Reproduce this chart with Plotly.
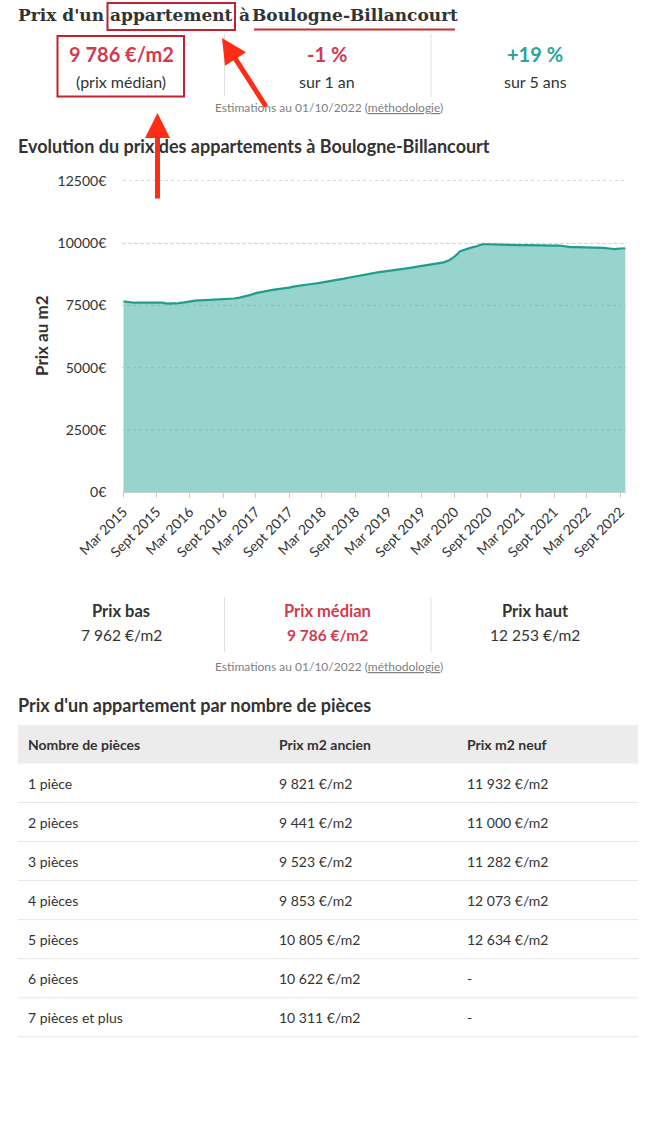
import pandas as pd
import plotly.graph_objects as go

# ---------------- data ----------------
months = pd.date_range("2015-03-01", "2022-10-01", freq="MS")
prix_m2 = [
    7660, 7630, 7605, 7610, 7615, 7620, 7633, 7610, 7570, 7575,
    7590, 7620, 7665, 7690, 7700, 7715, 7730, 7725, 7740, 7745,
    7775, 7810, 7860, 7920, 7990, 8040, 8080, 8120, 8150, 8175,
    8210, 8260, 8300, 8320, 8355, 8380, 8410, 8445, 8485, 8525,
    8570, 8615, 8660, 8710, 8760, 8790, 8820, 8855, 8880, 8900,
    8925, 8965, 9005, 9040, 9080, 9113, 9150, 9190, 9225, 9310,
    9450, 9670, 9750, 9815, 9870, 9950, 9950, 9940, 9935, 9940,
    9935, 9920, 9915, 9913, 9905, 9895, 9887, 9890, 9895, 9900,
    9870, 9833, 9835, 9835, 9830, 9825, 9815, 9805, 9780, 9755,
    9780, 9790,
]
x_tick_vals = ["2015-03-01", "2015-09-01", "2016-03-01", "2016-09-01",
               "2017-03-01", "2017-09-01", "2018-03-01", "2018-09-01",
               "2019-03-01", "2019-09-01", "2020-03-01", "2020-09-01",
               "2021-03-01", "2021-09-01", "2022-03-01", "2022-09-01"]
x_tick_text = ["Mar 2015", "Sept 2015", "Mar 2016", "Sept 2016",
               "Mar 2017", "Sept 2017", "Mar 2018", "Sept 2018",
               "Mar 2019", "Sept 2019", "Mar 2020", "Sept 2020",
               "Mar 2021", "Sept 2021", "Mar 2022", "Sept 2022"]
y_tick_vals = [0, 2500, 5000, 7500, 10000, 12500]
y_tick_text = ["0€", "2500€", "5000€", "7500€", "10000€", "12500€"]

header_values = ["9 786 €/m2", "-1 %", "+19 %"]
header_labels = ["(prix médian)", "sur 1 an", "sur 5 ans"]
stat_labels = ["Prix bas", "Prix médian", "Prix haut"]
stat_values = ["7 962 €/m2", "9 786 €/m2", "12 253 €/m2"]

table_columns = ["Nombre de pièces", "Prix m2 ancien", "Prix m2 neuf"]
pieces = ["1 pièce", "2 pièces", "3 pièces", "4 pièces", "5 pièces",
          "6 pièces", "7 pièces et plus"]
prix_ancien = ["9 821 €/m2", "9 441 €/m2", "9 523 €/m2", "9 853 €/m2",
               "10 805 €/m2", "10 622 €/m2", "10 311 €/m2"]
prix_neuf = ["11 932 €/m2", "11 000 €/m2", "11 282 €/m2", "12 073 €/m2",
             "12 634 €/m2", "-", "-"]

# ---------------- style ----------------
W, H = 651, 1137
DARK = "#333333"
RED = "#d33a4e"
TEAL = "#26a69a"
BOXRED = "#c4212e"
ARROW = "#ff2d16"
SEP = "#e0e0e0"
FONT = "Lato"
SLAB = "DejaVu Serif"
Y_MAX = 12560


def px(x):
    return x / W


def py(y):
    return 1 - y / H


fig = go.Figure()
fig.add_trace(go.Scatter(
    x=months, y=prix_m2, mode="lines", fill="tozeroy",
    fillcolor="#97d4cd", line=dict(color="#1f9c8c", width=2.2),
    hoverinfo="skip", showlegend=False,
))

annotations = []
shapes = []


def text(x, y, t, size, color=DARK, bold=False, xanchor="center", family=FONT, angle=0):
    if xanchor == "left":
        x -= 2  # compensate annotation padding
    annotations.append(dict(
        x=px(x), y=py(y), xref="paper", yref="paper", showarrow=False,
        text=f"<b>{t}</b>" if bold else t, xanchor=xanchor, yanchor="middle",
        textangle=angle, font=dict(family=family, size=size, color=color),
    ))


def line(x0, y0, x1, y1, color=SEP, width=1):
    shapes.append(dict(type="line", xref="paper", yref="paper",
                       x0=px(x0), y0=py(y0), x1=px(x1), y1=py(y1),
                       line=dict(color=color, width=width), layer="above"))


def rect(x0, y0, x1, y1, color, width=2, fill=None, layer="above"):
    shapes.append(dict(type="rect", xref="paper", yref="paper",
                       x0=px(x0), y0=py(y0), x1=px(x1), y1=py(y1),
                       line=dict(color=color, width=width),
                       fillcolor=fill if fill else "rgba(0,0,0,0)", layer=layer))


# ---------- header ----------
text(18, 15, "Prix d'un", 17, bold=True, xanchor="left", family=SLAB)
text(171.5, 15, "appartement", 17, bold=True, family=SLAB)
text(244.5, 15, "à", 17, bold=True, family=SLAB)
text(354.5, 15, "Boulogne-Billancourt", 17, bold=True, family=SLAB)
rect(107.5, 3, 235, 30, BOXRED, 2)
line(254, 29.5, 455, 29.5, "#d42a2a", 2)

col_centers = [121, 327.5, 535]
value_colors = [RED, RED, TEAL]
for cx, v, lab, c in zip(col_centers, header_values, header_labels, value_colors):
    text(cx, 54, v, 20, color=c, bold=True)
    text(cx, 81.5, lab, 16)
line(224.5, 34, 224.5, 96)
line(431, 34, 431, 97)
rect(57.5, 36, 184, 96.5, BOXRED, 2)
text(329, 107, "Estimations au 01/10/2022 (<u>méthodologie</u>)", 12, color="#808080")

# ---------- chart ----------
text(18, 146, "Evolution du prix des appartements à Boulogne-Billancourt", 18,
     bold=True, xanchor="left")
text(42, 336, "Prix au m2", 17, bold=True, angle=-90)
# faint dotted grid lines drawn over the filled area
for v in y_tick_vals[1:-1]:
    shapes.append(dict(type="line", xref="paper", yref="y",
                       x0=px(121), x1=px(627), y0=v, y1=v,
                       line=dict(color="rgba(60,60,60,0.13)", width=1, dash="dot"),
                       layer="above"))

# ---------- stats ----------
stat_colors = [DARK, RED, DARK]
for cx, lab, v, c in zip(col_centers, stat_labels, stat_values, stat_colors):
    text(cx, 611, lab, 16.5, color=c, bold=True)
    text(cx, 635, v, 15.5, color=c, bold=(c == RED))
line(224.5, 597, 224.5, 652)
line(431, 597, 431, 652)
text(329, 666, "Estimations au 01/10/2022 (<u>méthodologie</u>)", 12, color="#808080")

# ---------- table ----------
text(18, 705, "Prix d'un appartement par nombre de pièces", 18, bold=True, xanchor="left")
rect(18, 725, 638, 763.5, "#ececec", 0, fill="#ececec", layer="below")
col_x = [28, 279, 467]
for cx, t in zip(col_x, table_columns):
    text(cx, 744, t, 14, bold=True, xanchor="left")
row_h = 39.05
for i, (a, b, c) in enumerate(zip(pieces, prix_ancien, prix_neuf)):
    yc = 783 + i * row_h
    for cx, t in zip(col_x, (a, b, c)):
        text(cx, yc, t, 14, xanchor="left")
    yl = 802.5 + i * row_h
    line(18, yl, 638, yl, "#e6e6e6", 1)

# ---------- arrows ----------
annotations.append(dict(x=px(222), y=py(38), xref="paper", yref="paper", text="",
                        showarrow=True, arrowhead=2, arrowwidth=5, arrowsize=1,
                        arrowcolor=ARROW, ax=45, ay=70, standoff=0))
annotations.append(dict(x=px(157.5), y=py(113), xref="paper", yref="paper", text="",
                        showarrow=True, arrowhead=2, arrowwidth=5, arrowsize=1,
                        arrowcolor=ARROW, ax=0, ay=87, standoff=0))

plot_top = 492.3 - (492.3 - 180.7) * Y_MAX / 12500

fig.update_layout(
    width=W, height=H, margin=dict(l=0, r=0, t=0, b=0, autoexpand=False),
    paper_bgcolor="white", plot_bgcolor="white",
    font=dict(family=FONT, color=DARK),
    annotations=annotations, shapes=shapes,
    xaxis=dict(
        domain=[px(123.3), px(625.6)], type="date", automargin=False,
        range=["2015-03-01", "2022-10-01"],
        tickmode="array", tickvals=x_tick_vals, ticktext=x_tick_text,
        tickangle=-45, ticks="outside", ticklen=5, tickcolor="#cccccc",
        showline=True, linecolor="#cccccc", linewidth=1, showgrid=False,
        zeroline=False, tickfont=dict(family=FONT, size=14, color=DARK),
        fixedrange=True,
    ),
    yaxis=dict(
        domain=[py(492.3), py(plot_top)], range=[0, Y_MAX], automargin=False,
        tickmode="array", tickvals=y_tick_vals, ticktext=y_tick_text,
        showgrid=True, gridcolor="#d8d8d8", griddash="dot", gridwidth=1,
        zeroline=False, showline=False, ticks="", ticklabelstandoff=16,
        tickfont=dict(family=FONT, size=14, color=DARK), fixedrange=True,
    ),
)

fig.write_html("out.html", config={"displayModeBar": False})
